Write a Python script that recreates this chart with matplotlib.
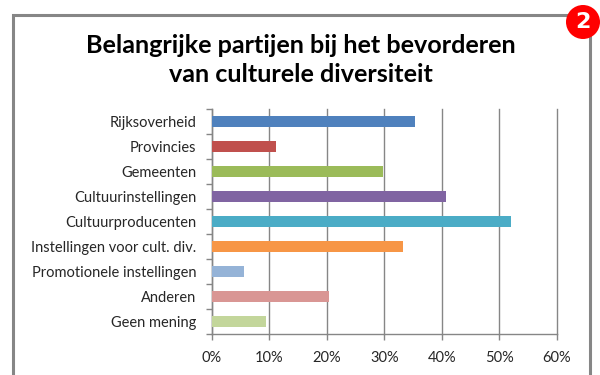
import matplotlib
matplotlib.use('Agg')
import matplotlib.pyplot as plt
from matplotlib.patches import Circle, Rectangle

categories = ['Rijksoverheid', 'Provincies', 'Gemeenten', 'Cultuurinstellingen',
              'Cultuurproducenten', 'Instellingen voor cult. div.',
              'Promotionele instellingen', 'Anderen', 'Geen mening']
values = [35.3, 11.2, 29.8, 40.7, 52.0, 33.3, 5.6, 20.4, 9.5]
colors = ['#4f81bd', '#c0504d', '#9bbb59', '#8064a2', '#4bacc6',
          '#f79646', '#95b3d7', '#d99694', '#c3d69b']
x_ticks = [0, 10, 20, 30, 40, 50, 60]
title = 'Belangrijke partijen bij het bevorderen\nvan culturele diversiteit'

W, H = 600, 375
plt.rcParams['font.family'] = ['Lato', 'DejaVu Sans']

fig = plt.figure(figsize=(W / 100, H / 100), dpi=100)

# kader om de grafiek, loopt onderaan door tot buiten de figuur
bg = fig.add_axes([0, 0, 1, 1])
bg.set_xlim(0, W)
bg.set_ylim(H, 0)
bg.axis('off')
bg.add_patch(Rectangle((12.5, 14.5), 577, 380, facecolor='white', edgecolor='#868686', linewidth=2.2))
bg.text(301, 60, title, ha='center', va='center', fontsize=18.05, fontweight='bold',
        color='black', linespacing=1.32)

ax = fig.add_axes([211.5 / W, 1 - 334 / H, 345.5 / W, 225 / H])
y = list(range(len(categories)))
ax.barh(y, values, height=0.44, color=colors, zorder=3)
ax.set_xlim(0, 60)
ax.set_ylim(len(categories) - 0.5, -0.5)
ax.set_xticks(x_ticks)
ax.set_xticklabels([f'{t}%' for t in x_ticks], fontsize=10.5, color='#262626')
ax.set_yticks(y)
ax.set_yticklabels(categories, fontsize=10.5, color='#262626')
ax.set_yticks([i - 0.5 for i in range(len(categories) + 1)], minor=True)
ax.tick_params(axis='y', which='major', length=0, pad=11)
ax.tick_params(axis='y', which='minor', length=4, width=1, color='#868686', direction='out')
ax.tick_params(axis='x', length=4, width=1, color='#868686', pad=8)
ax.grid(True, axis='x', color='#868686', linewidth=1, zorder=0, clip_on=False)
ax.set_axisbelow(True)
for side in ['top', 'right']:
    ax.spines[side].set_visible(False)
for side in ['left', 'bottom']:
    ax.spines[side].set_color('#868686')
    ax.spines[side].set_linewidth(1)

# rode badge met het nummer
bg.add_patch(Circle((583, 22), 17, facecolor='#ff0000', edgecolor='none', zorder=5))
bg.text(583, 22.5, '2', ha='center', va='center', fontsize=16, fontweight='bold',
        color='white', zorder=6, family='DejaVu Sans')

fig.savefig('out.png', dpi=100)
